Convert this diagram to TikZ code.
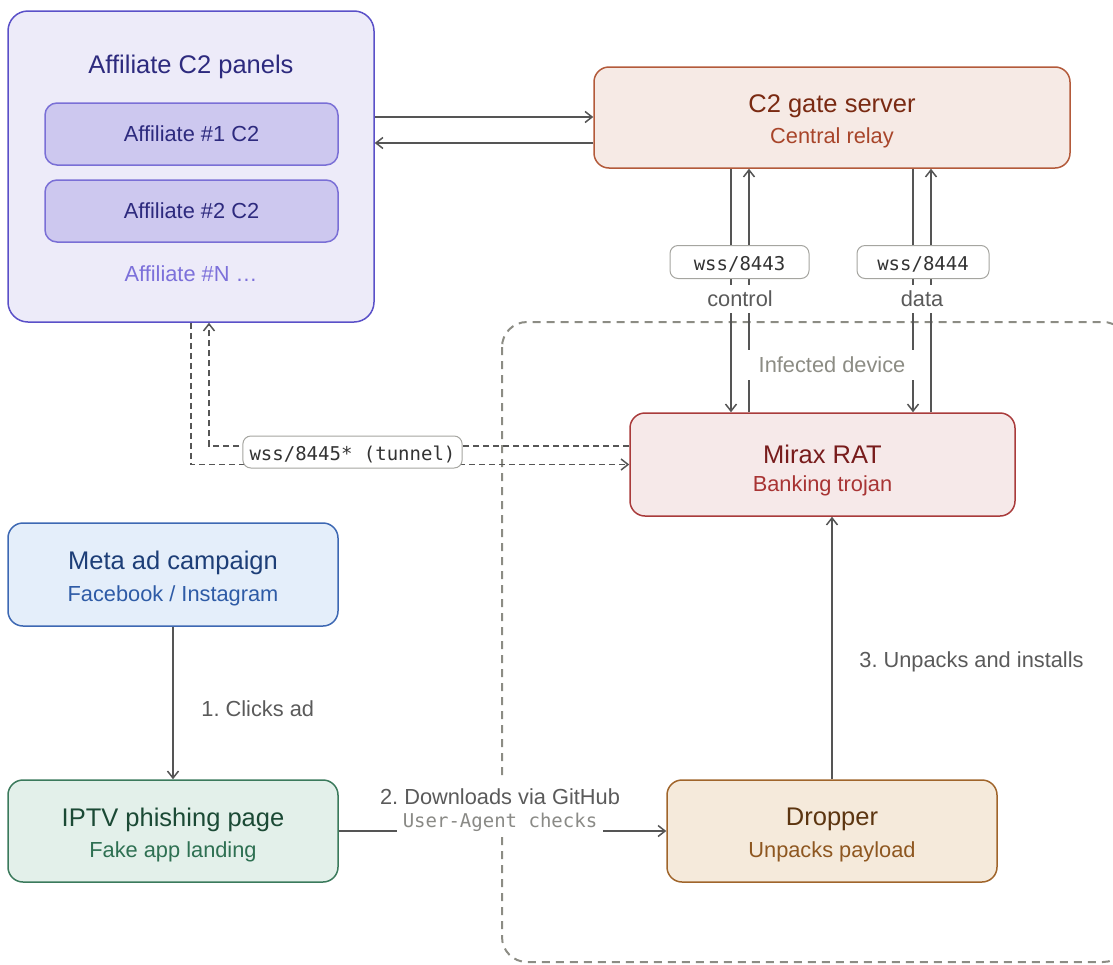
\documentclass[tikz,border=0pt]{standalone}
\usepackage{fontspec}
\setmainfont{Liberation Sans}
\setmonofont{DejaVu Sans Mono}
\usepackage{tikz}
\usetikzlibrary{arrows.meta,positioning,calc}
\frenchspacing

\definecolor{affFill}{HTML}{EDEBF9}
\definecolor{affLine}{HTML}{5A50C8}
\definecolor{affTxt}{HTML}{2D2A7E}
\definecolor{affIn}{HTML}{CDC8EF}
\definecolor{affInLine}{HTML}{7A6FD6}
\definecolor{affDim}{HTML}{7C70DA}
\definecolor{gateFill}{HTML}{F6EAE5}
\definecolor{gateLine}{HTML}{B35A3A}
\definecolor{gateTxt}{HTML}{7A2A12}
\definecolor{gateSub}{HTML}{A8452A}
\definecolor{ratFill}{HTML}{F6E9E9}
\definecolor{ratLine}{HTML}{A93B3B}
\definecolor{ratTxt}{HTML}{781C1C}
\definecolor{ratSub}{HTML}{A83434}
\definecolor{metaFill}{HTML}{E4EEFA}
\definecolor{metaLine}{HTML}{3D68B3}
\definecolor{metaTxt}{HTML}{1D3E77}
\definecolor{metaSub}{HTML}{2E5BA6}
\definecolor{iptvFill}{HTML}{E3F0EA}
\definecolor{iptvLine}{HTML}{3B7A5C}
\definecolor{iptvTxt}{HTML}{1B4A35}
\definecolor{iptvSub}{HTML}{2E7052}
\definecolor{dropFill}{HTML}{F5EADB}
\definecolor{dropLine}{HTML}{A0652B}
\definecolor{dropTxt}{HTML}{5C3510}
\definecolor{dropSub}{HTML}{8E5720}
\definecolor{lineGray}{HTML}{555555}
\definecolor{lblGray}{HTML}{5A5A5A}
\definecolor{portGray}{HTML}{A5A5A0}
\definecolor{devGray}{HTML}{8C8C84}
\definecolor{uaGray}{HTML}{8A8A86}

\tikzset{
    card/.style={draw, rounded corners=7.5pt, line width=0.75pt},
    ttl/.style={font=\fontsize{12.75}{15}\selectfont, inner sep=1pt},
    sub/.style={font=\fontsize{10.9}{13}\selectfont, inner sep=1pt},
    port/.style={draw=portGray, fill=white, rounded corners=4pt, line width=0.5pt,
        font=\fontsize{9.5}{11}\ttfamily, text=black!80},
    flow/.style={draw=lineGray, line width=0.75pt, -{Straight Barb[length=3.5pt,width=5.5pt]}},
    tunnel/.style={flow, dash pattern=on 3pt off 2pt},
    devbox/.style={draw=devGray, line width=1pt, dash pattern=on 4pt off 3pt, rounded corners=12.5pt},
}

\begin{document}
\begin{tikzpicture}[x=0.5pt,y=0.5pt,yscale=-1,xscale=1]
        \useasboundingbox (0,0) rectangle (1113,964);
        %Shape: Infected device frame
        \draw[devbox] (502,322) rectangle (1128,962);
        %Shape: Affiliate panels
        \node[card, rounded corners=10pt, fill=affFill, draw=affLine, minimum width=183pt, minimum height=155.5pt] (aff) at (191,166.5) {};
        % Text Node
        \node[ttl, text=affTxt] (affT) at (191,66.5) {Affiliate C2 panels};
        \node[card, rounded corners=6pt, fill=affIn, draw=affInLine, minimum width=146.5pt, minimum height=31pt, sub, text=affTxt] (aff1) at (191.5,134) {Affiliate \#1 C2};
        \node[card, rounded corners=6pt, fill=affIn, draw=affInLine, minimum width=146.5pt, minimum height=31pt, sub, text=affTxt] (aff2) at (191.5,211) {Affiliate \#2 C2};
        % Text Node
        \node[sub, text=affDim] (affN) at (191,273.5) {Affiliate \#N …};
        %Shape: C2 gate
        \node[card, fill=gateFill, draw=gateLine, minimum width=238pt, minimum height=50.5pt] (gate) at (832,117.5) {};
        \node[ttl, text=gateTxt] (gateT) at (832,106.5) {C2 gate server};
        \node[sub, text=gateSub] (gateS) at (832,138) {Central relay};
        %Shape: Mirax RAT
        \node[card, fill=ratFill, draw=ratLine, minimum width=192.5pt, minimum height=51.5pt] (rat) at (822.5,464.5) {};
        \node[ttl, text=ratTxt] (ratT) at (822.5,454) {Mirax RAT};
        \node[sub, text=ratSub] (ratS) at (822.5,486) {Banking trojan};
        %Shape: Meta ad campaign
        \node[card, fill=metaFill, draw=metaLine, minimum width=165pt, minimum height=51.5pt] (meta) at (173,574.5) {};
        \node[ttl, text=metaTxt] (metaT) at (173,563) {Meta ad campaign};
        \node[sub, text=metaSub] (metaS) at (173,596) {Facebook / Instagram};
        %Shape: IPTV phishing page
        \node[card, fill=iptvFill, draw=iptvLine, minimum width=165pt, minimum height=51pt] (iptv) at (173,831) {};
        \node[ttl, text=iptvTxt] (iptvT) at (173,819.5) {IPTV phishing page};
        \node[sub, text=iptvSub] (iptvS) at (173,852) {Fake app landing};
        %Shape: Dropper
        \node[card, fill=dropFill, draw=dropLine, minimum width=165pt, minimum height=51pt] (drop) at (832,831) {};
        \node[ttl, text=dropTxt] (dropT) at (832,819.5) {Dropper};
        \node[sub, text=dropSub] (dropS) at (832,852) {Unpacks payload};

        % anchors for the parallel lines
        \coordinate (hy1) at (0,117);
        \coordinate (hy2) at (0,143);
        \coordinate (cdn) at (731,0);
        \coordinate (cup) at (749,0);
        \coordinate (ddn) at (913,0);
        \coordinate (dup) at (931,0);
        \coordinate (tun1) at (209,446);

        %Straight Lines: affiliates <-> gate
        \draw[flow] (aff.east |- hy1) -- (gate.west |- hy1);
        \draw[flow] (gate.west |- hy2) -- (aff.east |- hy2);
        %Straight Lines: gate <-> RAT
        \draw[flow] (gate.south -| cdn) -- (rat.north -| cdn);
        \draw[flow] (rat.north -| cup) -- (gate.south -| cup);
        \draw[flow] (gate.south -| ddn) -- (rat.north -| ddn);
        \draw[flow] (rat.north -| dup) -- (gate.south -| dup);
        %Dashed Lines: tunnel
        \draw[tunnel] (rat.west |- tun1) -- (tun1) -- (aff.south -| tun1);
        \draw[tunnel] (aff.south) |- (rat.west);
        %Straight Lines: infection chain
        \draw[flow] (meta) -- (iptv);
        \draw[flow] (iptv) -- (drop);
        \draw[flow] (drop.north) -- (drop.north |- rat.south);

        % Text Node
        \node[port, minimum width=69.5pt, minimum height=16.5pt, text depth=0pt, text height=8pt] (p8443) at (739.5,262) {wss/8443};
        \node[port, minimum width=66pt, minimum height=16.5pt, text depth=0pt, text height=8pt] (p8444) at (923,262) {wss/8444};
        \node[sub, text=lblGray, fill=white, inner ysep=3pt] (ctl) at (740,298.5) {control};
        \node[sub, text=lblGray, fill=white, inner ysep=3pt] (dat) at (922,298.5) {data};
        \node[sub, text=devGray, fill=white, inner xsep=6.5pt, inner ysep=3.5pt] (devL) at (832,364.5) {Infected device};
        \node[port, minimum width=109.5pt, minimum height=16pt, text depth=-2pt, text height=8pt] (ptun) at (352.5,452) {wss/8445* (tunnel)};
        \node[sub, text=lblGray, anchor=west] (l1) at (199,708.5) {1. Clicks ad};
        \node[sub, text=lblGray, fill=white, inner ysep=5pt] (l2) at (500,797) {2. Downloads via GitHub};
        \node[font=\fontsize{9.5}{11}\ttfamily, text=uaGray, fill=white, inner xsep=3pt, inner ysep=2pt] (l2b) at (500,822) {User-Agent checks};
        \node[sub, text=lblGray, anchor=west] (l3) at (857,661.5) {3. Unpacks and installs};
\end{tikzpicture}
\end{document}
